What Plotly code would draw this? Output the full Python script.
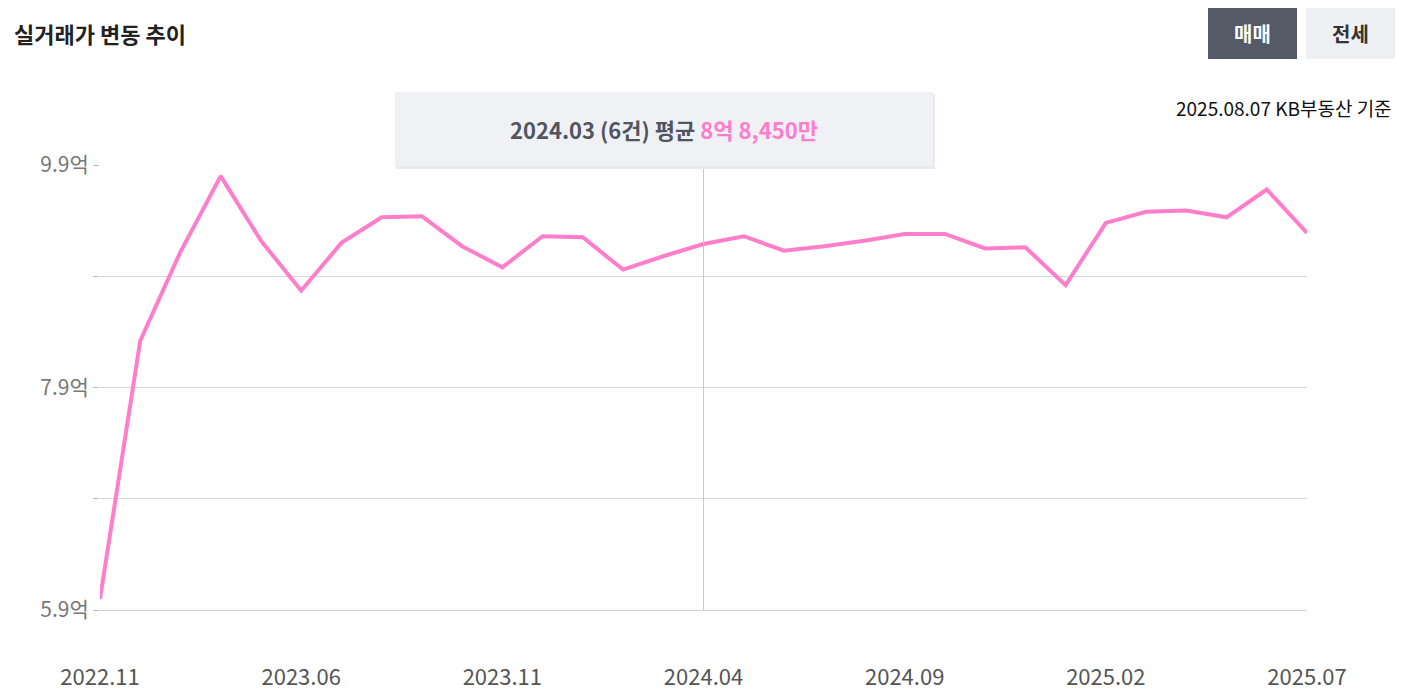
import plotly.graph_objects as go

months = ["2022.11","2023.01","2023.02","2023.04","2023.05","2023.06","2023.07","2023.08","2023.09","2023.10",
          "2023.11","2023.12","2024.01","2024.02","2024.03","2024.04","2024.05","2024.06","2024.07","2024.08",
          "2024.09","2024.10","2024.11","2024.12","2025.01","2025.02","2025.03","2025.04","2025.05","2025.06","2025.07"]
prices = [6.00,8.32,9.12,9.80,9.22,8.77,9.20,9.43,9.44,9.17,
          8.98,9.26,9.25,8.96,9.08,9.19,9.26,9.13,9.17,9.22,
          9.28,9.28,9.15,9.16,8.82,9.38,9.48,9.49,9.43,9.68,9.29]
tick_months = ["2022.11","2023.06","2023.11","2024.04","2024.09","2025.02","2025.07"]
y_ticks = [5.9,6.9,7.9,8.9,9.9]
y_text = ["5.9억","","7.9억","","9.9억"]

F = "Noto Sans CJK KR"
OFF = 8
L, T, W, H = 100 - OFF, 165 - OFF, 1207, 445
def px(x): return (x - OFF - L) / W
def py(y): return (T + H - (y - OFF)) / H

fig = go.Figure(go.Scatter(x=months, y=prices, mode="lines",
                           line=dict(color="#ff7ecb", width=4), hoverinfo="skip"))
fig.update_layout(
    width=1404, height=698, paper_bgcolor="white", plot_bgcolor="white",
    margin=dict(l=L, r=1404 - L - W, t=T, b=698 - T - H), showlegend=False,
    font=dict(family=F),
    xaxis=dict(type="category", tickmode="array", tickvals=tick_months, ticktext=tick_months,
               showgrid=False, zeroline=False, showline=True, linecolor="#cfcfcf",
               tickfont=dict(size=22, color="#555"), ticks="", ticklabelstandoff=48,
               range=[0, len(months)-1]),
    yaxis=dict(range=[5.9, 9.9], tickvals=y_ticks, ticktext=y_text, showgrid=True,
               gridcolor="#d6d6d6", zeroline=False, ticks="outside", ticklen=6,
               tickcolor="#bbb", tickfont=dict(size=21, color="#777")),
)
fig.add_shape(type="line", xref="x", yref="paper", x0=15, x1=15, y0=0, y1=1,
              line=dict(color="#c8c8c8", width=1), layer="above")
# tooltip
fig.add_shape(type="rect", xref="paper", yref="paper", x0=px(396), x1=px(935),
              y0=py(169), y1=py(94), fillcolor="#e9eaed", line=dict(width=0))
fig.add_shape(type="rect", xref="paper", yref="paper", x0=px(395), x1=px(933),
              y0=py(166), y1=py(92), fillcolor="#f0f1f5", line=dict(width=0))
def ann(x, y, text, size, color, xa="center"):
    fig.add_annotation(xref="paper", yref="paper", x=px(x), y=py(y), xanchor=xa, yanchor="middle",
                       text=text, showarrow=False, font=dict(size=size, color=color, family=F))
ann(664, 129, "<b>2024.03 (6건) 평균 <span style='color:#ff7ecb'>8억 8,450만</span></b>", 22, "#50565f")
ann(12, 33, "<b>실거래가 변동 추이</b>", 22, "#222", "left")
ann(1394, 108, "2025.08.07 KB부동산 기준", 19, "#111", "right")
# buttons
for x0, x1, bg, fg, label in [(1208, 1297, "#545b66", "white", "매매"), (1306, 1395, "#eef0f3", "#333", "전세")]:
    fig.add_shape(type="rect", xref="paper", yref="paper", x0=px(x0), x1=px(x1),
                  y0=py(59), y1=py(7), fillcolor=bg, line=dict(width=0))
    ann((x0 + x1) / 2, 33, f"<b>{label}</b>", 20, fg)
fig.write_html("out.html")
